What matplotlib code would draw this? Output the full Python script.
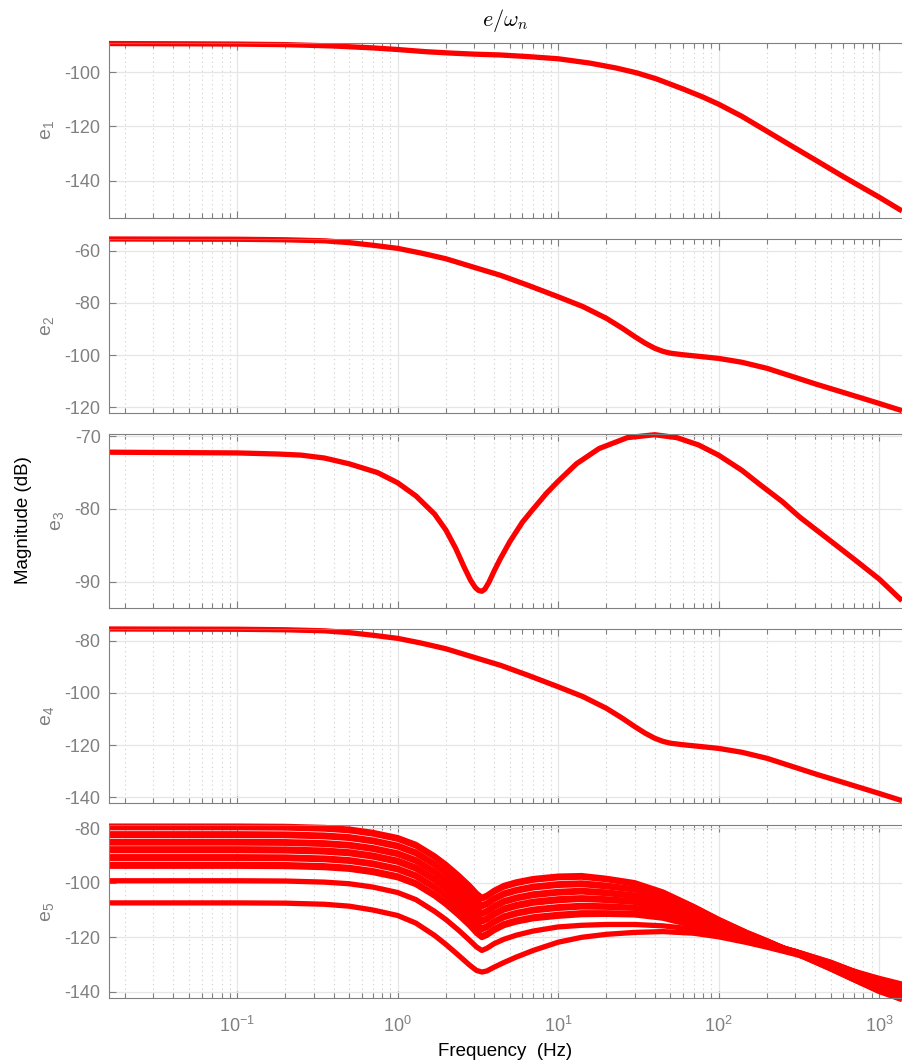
import numpy as np
import matplotlib
matplotlib.use("Agg")
import matplotlib.pyplot as plt
from matplotlib.ticker import LogLocator, NullFormatter, FixedLocator

plt.rcParams['font.family'] = ['Liberation Sans', 'DejaVu Sans']
plt.rcParams['mathtext.fontset'] = 'cm'
plt.rcParams['axes.unicode_minus'] = False

# --- data (frequency in Hz, magnitude in dB) ---
f1 = [0.0159, 0.05, 0.1, 0.2, 0.4, 0.7, 1, 1.5, 2.13, 3, 4.35, 6.5, 10, 15.8, 23, 31, 41,
      60, 80, 100, 140, 198, 280, 408, 600, 1000, 1391]
e1 = [-89.5, -89.6, -89.7, -89.9, -90.4, -91.1, -91.7, -92.5, -93.0, -93.4, -93.7, -94.3,
      -95.1, -96.7, -98.5, -100.3, -102.5, -106.2, -109.2, -111.8, -116.3, -121.6, -126.9,
      -132.6, -138.5, -146.0, -151.1]

f2 = [0.0159, 0.1, 0.2, 0.35, 0.5, 0.7, 1.0, 1.4, 2.0, 3.0, 4.4, 6.5, 10, 14.3, 20, 25, 30,
      35, 40, 45, 50, 60, 75, 100, 140, 200, 280, 410, 600, 1000, 1391]
e2 = [-55.4, -55.5, -55.7, -56.1, -56.8, -57.8, -59.0, -60.8, -63.0, -66.3, -69.4, -73.2,
      -77.6, -81.4, -85.9, -89.6, -92.9, -95.5, -97.4, -98.6, -99.3, -99.9, -100.5, -101.3,
      -102.8, -105.1, -108.0, -111.3, -114.4, -118.6, -121.4]

f3 = [0.0159, 0.1, 0.18, 0.25, 0.35, 0.5, 0.75, 1, 1.3, 1.7, 2.0, 2.3, 2.6, 2.85, 3.05, 3.2,
      3.35, 3.5, 3.7, 4.0, 4.35, 5, 6, 7, 8.5, 10, 13, 18, 27, 40, 55, 75, 100, 140, 180, 250,
      320, 500, 700, 1000, 1391]
e3 = [-72.2, -72.3, -72.45, -72.6, -73.0, -73.8, -75.0, -76.4, -78.2, -80.7, -82.9, -85.4,
      -88.0, -89.8, -90.8, -91.2, -91.3, -91.0, -90.1, -88.5, -86.9, -84.5, -81.8, -80.0,
      -77.8, -76.2, -73.8, -71.7, -70.2, -69.8, -70.2, -71.2, -72.6, -74.7, -76.6, -79.0,
      -81.1, -84.4, -86.9, -89.6, -92.6]

f4 = f2
e4 = [-75.4, -75.5, -75.7, -76.1, -76.8, -77.8, -79.0, -80.8, -83.0, -86.3, -89.4, -93.2,
      -97.6, -101.4, -105.9, -109.6, -112.9, -115.5, -117.4, -118.6, -119.3, -119.9, -120.5,
      -121.3, -122.8, -125.1, -128.0, -131.3, -134.4, -138.6, -141.4]

f5 = [0.0159, 0.1, 0.2, 0.35, 0.5, 0.7, 1.0, 1.3, 1.7, 2.0, 2.4, 2.8, 3.1, 3.35, 3.6, 4.0,
      4.6, 5.5, 7, 10, 14, 20, 30, 45, 70, 100, 150, 200, 300, 500, 700, 1000, 1391]
e5 = [
    [-79.3, -79.3, -79.4, -79.8, -80.4, -81.6, -83.5, -86.0, -90.2, -93.3, -97.3, -101.0, -103.8, -105.4, -104.6, -102.8, -101.0, -99.7, -98.5, -97.6,
     -97.4, -98.4, -100.0, -103.4, -108.7, -113.4, -118.2, -121.2, -125.8, -131.6, -135.6, -139.8, -142.8],
    [-79.9, -79.9, -80.0, -80.4, -81.0, -82.2, -84.1, -86.6, -90.8, -93.9, -97.9, -101.6, -104.4, -106.0, -105.2, -103.4, -101.6, -100.3, -99.1, -98.2,
     -98.0, -98.9, -100.5, -103.8, -109.0, -113.6, -118.3, -121.3, -125.8, -131.5, -135.5, -139.6, -142.6],
    [-82.1, -82.1, -82.2, -82.6, -83.2, -84.4, -86.3, -88.8, -93.0, -96.1, -100.1, -103.8, -106.6, -108.2, -107.4, -105.6, -103.8, -102.5, -101.3, -100.4,
     -100.1, -100.9, -102.2, -105.2, -110.0, -114.3, -118.7, -121.4, -125.7, -131.1, -135.0, -139.1, -142.0],
    [-82.7, -82.7, -82.8, -83.2, -83.8, -85.0, -86.9, -89.4, -93.6, -96.7, -100.7, -104.4, -107.2, -108.8, -108.0, -106.2, -104.4, -103.1, -101.9, -101.0,
     -100.7, -101.5, -102.7, -105.6, -110.3, -114.5, -118.8, -121.5, -125.6, -131.0, -134.9, -138.9, -141.9],
    [-84.9, -84.9, -85.0, -85.4, -86.0, -87.2, -89.1, -91.6, -95.8, -98.9, -102.9, -106.6, -109.4, -111.0, -110.2, -108.4, -106.6, -105.3, -104.1, -103.2,
     -102.8, -103.4, -104.5, -107.0, -111.4, -115.3, -119.2, -121.7, -125.5, -130.7, -134.4, -138.3, -141.2],
    [-85.5, -85.5, -85.6, -86.0, -86.6, -87.8, -89.7, -92.2, -96.4, -99.5, -103.5, -107.2, -110.0, -111.6, -110.8, -109.0, -107.2, -105.9, -104.7, -103.8,
     -103.4, -104.0, -105.0, -107.4, -111.7, -115.5, -119.3, -121.7, -125.5, -130.6, -134.2, -138.2, -141.1],
    [-87.6, -87.6, -87.7, -88.1, -88.7, -89.9, -91.8, -94.3, -98.5, -101.6, -105.6, -109.3, -112.1, -113.7, -112.9, -111.1, -109.3, -108.0, -106.8, -105.9,
     -105.5, -105.9, -106.6, -108.8, -112.7, -116.1, -119.6, -121.9, -125.4, -130.2, -133.8, -137.6, -140.5],
    [-88.3, -88.3, -88.4, -88.8, -89.4, -90.6, -92.5, -95.0, -99.2, -102.3, -106.3, -110.0, -112.8, -114.4, -113.6, -111.8, -110.0, -108.7, -107.5, -106.6,
     -106.1, -106.5, -107.2, -109.3, -113.0, -116.4, -119.7, -121.9, -125.4, -130.1, -133.6, -137.5, -140.3],
    [-90.5, -90.5, -90.6, -91.0, -91.6, -92.8, -94.7, -97.2, -101.4, -104.5, -108.5, -112.2, -115.0, -116.6, -115.8, -114.0, -112.2, -110.9, -109.7, -108.8,
     -108.3, -108.5, -109.0, -110.7, -114.1, -117.1, -120.1, -122.1, -125.2, -129.7, -133.1, -136.9, -139.7],
    [-91.1, -91.1, -91.2, -91.6, -92.2, -93.4, -95.3, -97.8, -102.0, -105.1, -109.1, -112.8, -115.6, -117.2, -116.4, -114.6, -112.8, -111.5, -110.3, -109.4,
     -108.9, -109.0, -109.4, -111.1, -114.4, -117.3, -120.2, -122.1, -125.2, -129.6, -133.0, -136.7, -139.5],
    [-93.3, -93.3, -93.4, -93.8, -94.4, -95.6, -97.5, -100.0, -104.2, -107.3, -111.3, -115.0, -117.8, -119.4, -118.6, -116.8, -115.0, -113.7, -112.5, -111.6,
     -111.0, -111.0, -111.2, -112.5, -115.4, -118.0, -120.6, -122.3, -125.1, -129.2, -132.5, -136.2, -138.9],
    [-94.0, -94.0, -94.1, -94.5, -95.1, -96.3, -98.2, -100.7, -104.9, -108.0, -112.0, -115.7, -118.5, -120.1, -119.3, -117.5, -115.7, -114.4, -113.2, -112.3,
     -111.7, -111.6, -111.8, -113.0, -115.8, -118.3, -120.7, -122.4, -125.1, -129.1, -132.4, -136.0, -138.7],
    [-99.3, -99.3, -99.4, -99.8, -100.4, -101.6, -103.6, -106.2, -110.5, -113.5, -117.4, -121.0, -123.5, -124.8, -124.0, -122.3, -120.7, -119.2, -117.7, -116.2,
     -115.6, -115.3, -115.3, -115.8, -117.0, -118.6, -120.9, -122.6, -125.4, -129.6, -132.6, -135.8, -138.2],
    [-107.4, -107.4, -107.5, -107.9, -108.6, -110.0, -112.0, -114.8, -119.3, -122.6, -126.6, -130.1, -132.1, -132.7, -132.3, -130.9, -129.2, -127.2, -124.8, -121.8,
     -120.0, -118.9, -118.2, -117.9, -118.5, -119.8, -121.9, -123.6, -126.2, -129.9, -132.4, -135.0, -137.1],
]

labels = [r'$\mathregular{e_1}$', r'$\mathregular{e_2}$', r'$\mathregular{e_3}$',
          r'$\mathregular{e_4}$', r'$\mathregular{e_5}$']
ylims = [(-153.7, -89.3), (-122.3, -55.4), (-93.6, -69.7), (-142.3, -75.4), (-142.2, -78.9)]
yticks = [[-140, -120, -100], [-120, -100, -80, -60], [-90, -80, -70],
          [-140, -120, -100, -80], [-140, -120, -100, -80]]

# panel layout in pixels (top, bottom) of a 902 x 1062 figure
W, H = 902, 1062
panels = [(43, 218), (239, 413), (434, 608), (629, 803), (825, 998)]
left_px, right_px = 109, 902

grey = '#808080'
fig = plt.figure(figsize=(W / 100, H / 100), dpi=100)

curves = [(f1, [e1]), (f2, [e2]), (f3, [e3]), (f4, [e4]), (f5, e5)]
axes = []
for i, (top, bot) in enumerate(panels):
    ax = fig.add_axes([left_px / W, 1 - bot / H, (right_px - left_px) / W, (bot - top) / H])
    freq, rows = curves[i]
    for row in rows:
        ax.plot(freq, row, color='#ff0000', lw=3.8, solid_capstyle='butt',
                solid_joinstyle='round', clip_on=False)
    ax.set_xscale('log')
    ax.set_xlim(0.0159, 1391)
    ax.set_ylim(*ylims[i])
    ax.yaxis.set_major_locator(FixedLocator(yticks[i]))
    ax.xaxis.set_major_locator(LogLocator(base=10, numticks=20))
    ax.xaxis.set_minor_locator(LogLocator(base=10, subs=np.arange(2, 10), numticks=20))
    ax.xaxis.set_minor_formatter(NullFormatter())
    ax.set_axisbelow(True)
    ax.grid(True, which='major', axis='both', color='#e6e6e6', lw=0.9, ls='-')
    ax.grid(True, which='minor', axis='x', color='#cfcfcf', lw=0.8, ls=(0, (1, 3)))
    ax.tick_params(which='both', direction='in', top=True, right=False, colors=grey,
                   labelsize=13, width=0.8)
    ax.tick_params(which='major', length=5, pad=6)
    ax.tick_params(which='minor', length=3.5)
    ax.tick_params(axis='x', pad=13)
    for s in ax.spines.values():
        s.set_color(grey)
        s.set_linewidth(0.8)
    ax.spines['right'].set_visible(False)
    ax.set_ylabel(labels[i], color=grey, fontsize=14, labelpad=6)
    if i < len(panels) - 1:
        ax.set_xticklabels([])
    axes.append(ax)

axes[0].set_title(r'$e/\omega_n$', fontsize=16, pad=12.5)
axes[-1].set_xlabel('Frequency  (Hz)', fontsize=13.5, labelpad=5)
fig.text(24 / W, 1 - 520 / H, 'Magnitude (dB)', rotation=90, ha='center', va='center',
         fontsize=13.5)

fig.savefig('out.png', dpi=100)
